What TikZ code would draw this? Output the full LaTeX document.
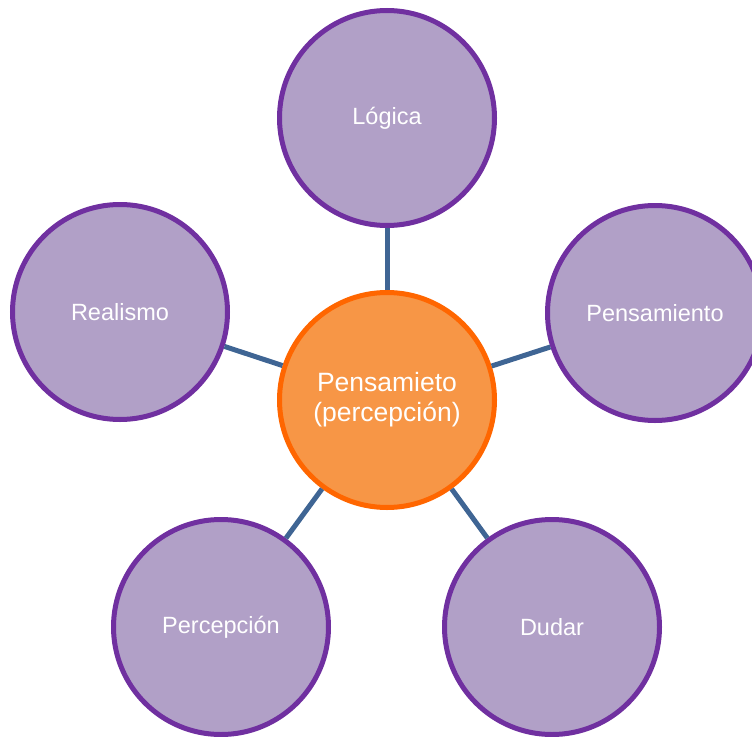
\documentclass[tikz,border=0pt]{standalone}
\usepackage{fontspec}
\setmainfont{Liberation Sans}
\usepackage{tikz}

\definecolor{idfill}{HTML}{B1A0C7}
\definecolor{idline}{HTML}{7030A0}
\definecolor{corefill}{HTML}{F79646}
\definecolor{coreline}{HTML}{FF6600}
\definecolor{linkline}{HTML}{3F6594}

\begin{document}
\begin{tikzpicture}[x=1pt,y=-1pt,
    idea/.style={circle,fill=idfill,draw=idline,line width=5pt,minimum size=215pt,inner sep=0pt,
        text=white,font=\fontsize{23.5}{28}\selectfont,align=center},
    core/.style={idea,fill=corefill,draw=coreline,font=\fontsize{26.5}{30}\selectfont},
    link/.style={linkline,line width=5pt}]
    % Frame
    \useasboundingbox (0,0) rectangle (752,736);
    \clip (0,0) rectangle (752,736);
    
    % Center circle
    \node[core] (core) at (387,400) {Pensamieto\\(percepción)};
    
    % Outer circles
    \node[idea] (logica) at (387,118) {Lógica};
    \node[idea] (realismo) at (120,312) {Realismo};
    \node[idea] (pensamiento) at (655,313) {Pensamiento};
    \node[idea] (percepcion) at (221,627) {Percepción};
    \node[idea] (dudar) at (552,627) {Dudar};
    
    % Links
    \foreach \n in {logica,realismo,pensamiento,percepcion,dudar}
        \draw[link] (core) -- (\n);
\end{tikzpicture}
\end{document}
